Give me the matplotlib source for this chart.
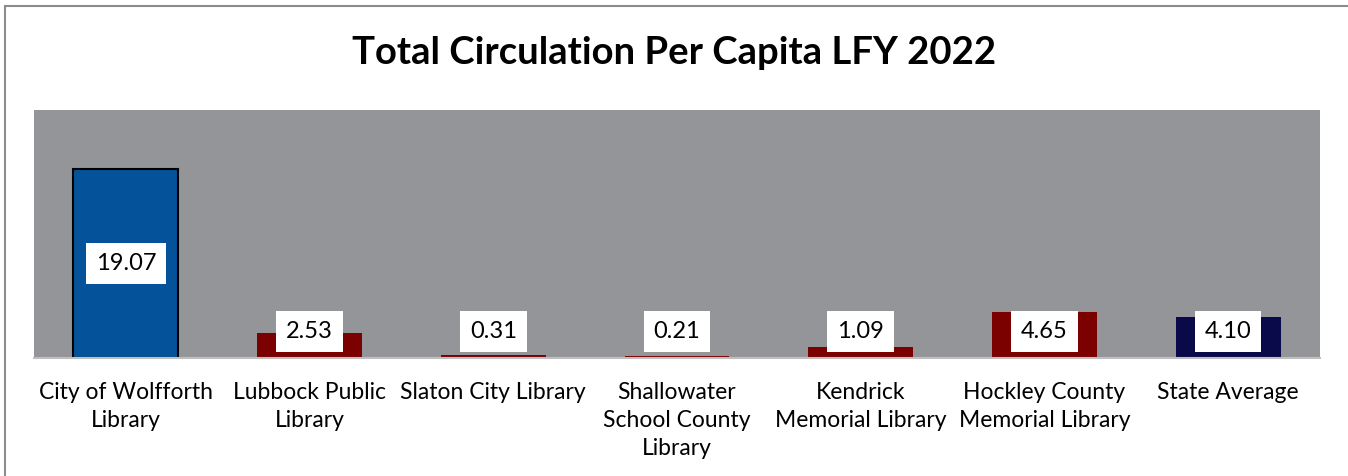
import matplotlib
matplotlib.use("Agg")
import matplotlib.pyplot as plt
from matplotlib.patches import Rectangle

categories = ["City of Wolfforth\nLibrary", "Lubbock Public\nLibrary", "Slaton City Library",
              "Shallowater\nSchool County\nLibrary", "Kendrick\nMemorial Library",
              "Hockley County\nMemorial Library", "State Average"]
values = [19.07, 2.53, 0.31, 0.21, 1.09, 4.65, 4.10]
labels = ["19.07", "2.53", "0.31", "0.21", "1.09", "4.65", "4.10"]
colors = ["#04529A", "#7B0000", "#7B0000", "#7B0000", "#7B0000", "#7B0000", "#0A0A4A"]
edgecolors = ["black", "none", "none", "none", "none", "none", "none"]

plt.rcParams['font.family'] = ['Lato', 'DejaVu Sans']

W, H = 1348, 476
fig = plt.figure(figsize=(W / 100, H / 100), dpi=100)
fig.patches.append(Rectangle((4.5 / W, -0.2), 1.2, 1.2 - 5.5 / H, transform=fig.transFigure,
                             fill=False, edgecolor="#8C8C8C", linewidth=1.5))
ax = fig.add_axes([34 / W, 1 - 358 / H, (1320 - 34) / W, (358 - 110) / H])
ax.set_facecolor("#939598")
x = list(range(len(values)))
ax.bar(x, values, width=0.57, color=colors, edgecolor=edgecolors, linewidth=1.5)
ax.set_xlim(-0.5, len(values) - 0.5)
ax.set_ylim(0, 25)
ax.set_yticks([])
ax.set_xticks(x)
ax.set_xticklabels(categories, fontsize=16.5, linespacing=1.43)
ax.tick_params(axis='x', length=0, pad=17)
for s in ["top", "left", "right"]:
    ax.spines[s].set_visible(False)
ax.spines["bottom"].set_color("#BFBFBF")
ax.spines["bottom"].set_linewidth(1.5)

for xi, v, lab in zip(x, values, labels):
    yl = max(v / 2, 2.7)
    ax.text(xi, yl, lab, ha="center", va="center", fontsize=17,
            bbox=dict(boxstyle="square,pad=0.42", facecolor="white", edgecolor="none"))

fig.text(0.5, 1 - 53 / H, "Total Circulation Per Capita LFY 2022", ha="center", va="center",
         fontsize=27.5, fontweight="bold")

fig.savefig("out.png", dpi=100)
